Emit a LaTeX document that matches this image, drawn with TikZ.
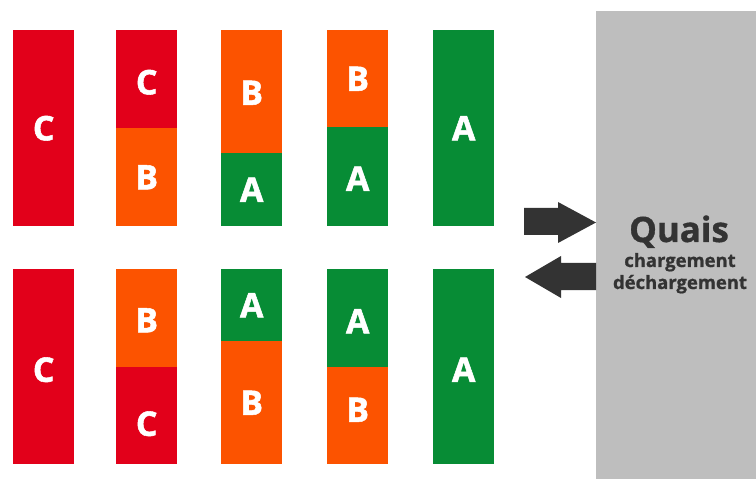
\documentclass[tikz,border=0pt]{standalone}
\usepackage{fontspec}
\setmainfont{Open Sans}
\newfontfamily\heavy{Open Sans}[BoldFeatures={FakeBold=1.6}]
\newfontfamily\heavyq{Open Sans}[BoldFeatures={FakeBold=1.0}]
\definecolor{cred}{HTML}{E2001A}
\definecolor{corange}{HTML}{FC5300}
\definecolor{cgreen}{HTML}{078C35}
\definecolor{cgrey}{HTML}{BEBEBE}
\definecolor{cdark}{HTML}{333333}
\tikzset{
  seg/.style={draw=none, inner sep=0pt, anchor=north west, minimum width=61bp},
  let/.style={text=white, font=\heavy\fontsize{34}{34}\selectfont\bfseries, inner sep=0pt, text height=24.3bp, text depth=0pt},
  sub/.style={text=cdark, font=\heavyq\fontsize{18.5}{18.5}\selectfont\bfseries, inner sep=0pt, anchor=base},
  arr/.style={fill=cdark, draw=none},
}
\begin{document}
\begin{tikzpicture}[x=1bp,y=-1bp]
\useasboundingbox (0,0) rectangle (756,479);
% quay
\node[fill=cgrey, inner sep=0pt, anchor=north west, minimum width=160bp, minimum height=468bp] (quai) at (596,11) {};
% upper row
\node[seg, fill=cred, minimum height=196bp] (u1) at (13,30) {};
\node[let] at (u1.center) {C};
\node[seg, fill=cred, minimum height=98bp] (u2a) at (116,30) {};
\node[let] at ([yshift=-3bp]u2a.center) {C};
\node[seg, fill=corange, minimum height=98bp] (u2b) at (116,128) {};
\node[let] at (u2b.center) {B};
\node[seg, fill=corange, minimum height=123bp] (u3a) at (221,30) {};
\node[let] at ([yshift=-1bp]u3a.center) {B};
\node[seg, fill=cgreen, minimum height=73bp] (u3b) at (221,153) {};
\node[let] at (u3b.center) {A};
\node[seg, fill=corange, minimum height=97bp] (u4a) at (327,30) {};
\node[let] at (u4a.center) {B};
\node[seg, fill=cgreen, minimum height=99bp] (u4b) at (327,127) {};
\node[let] at ([yshift=-2bp]u4b.center) {A};
\node[seg, fill=cgreen, minimum height=196bp] (u5) at (433,30) {};
\node[let] at (u5.center) {A};
% lower row
\node[seg, fill=cred, minimum height=195bp] (l1) at (13,269) {};
\node[let] at ([yshift=-3bp]l1.center) {C};
\node[seg, fill=corange, minimum height=98bp] (l2a) at (116,269) {};
\node[let] at ([yshift=-2bp]l2a.center) {B};
\node[seg, fill=cred, minimum height=97bp] (l2b) at (116,367) {};
\node[let] at ([yshift=-8bp]l2b.center) {C};
\node[seg, fill=cgreen, minimum height=72bp] (l3a) at (221,269) {};
\node[let] at (l3a.center) {A};
\node[seg, fill=corange, minimum height=123bp] (l3b) at (221,341) {};
\node[let] at (l3b.center) {B};
\node[seg, fill=cgreen, minimum height=98bp] (l4a) at (327,269) {};
\node[let] at ([yshift=-3bp]l4a.center) {A};
\node[seg, fill=corange, minimum height=97bp] (l4b) at (327,367) {};
\node[let] at ([yshift=6bp]l4b.center) {B};
\node[seg, fill=cgreen, minimum height=195bp] (l5) at (433,269) {};
\node[let] at ([yshift=-3bp]l5.center) {A};
% arrows
\fill[arr] (524,208) -- (558,208) -- (558,202) -- (596,222.5) -- (558,243) -- (558,235) -- (524,235) -- cycle;
\fill[arr] (596,263) -- (561,263) -- (561,256) -- (525,277) -- (561,298) -- (561,290) -- (596,290) -- cycle;
% quay text
\node[text=cdark, font=\heavyq\fontsize{35}{35}\selectfont\bfseries, inner sep=0pt, anchor=base] (q) at (679,242) {Quais};
\node[sub] (c1) at (680,267) {chargement};
\node[sub] (c2) at (680,289) {déchargement};
\end{tikzpicture}
\end{document}
